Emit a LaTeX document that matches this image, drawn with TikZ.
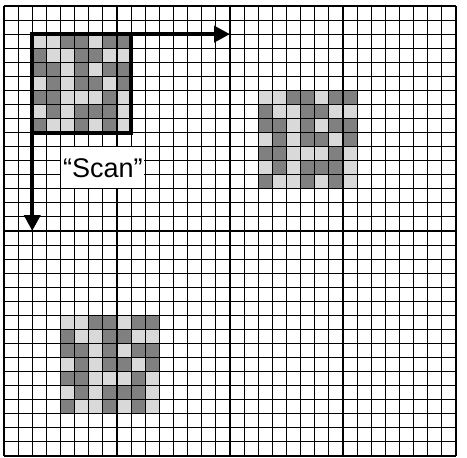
\documentclass[tikz,border=0pt]{standalone}
\usepackage{fontspec}
\setmainfont{Liberation Sans}
\usetikzlibrary{arrows.meta}
\definecolor{darkcell}{HTML}{808080}
\definecolor{lightcell}{HTML}{D9D9D9}
\newcommand\patblock[2]{%
  \fill[lightcell] (#1,#2) rectangle ++(7,7);
  \foreach \cc/\rr in {2/0,3/0,5/0,6/0, 0/1,3/1,4/1, 0/2,1/2,3/2,5/2,6/2,
      1/3,3/3,4/3,6/3, 0/4,1/4,5/4, 1/5,3/5,4/5,5/5, 0/6,3/6,5/6}{%
    \fill[darkcell] ({#1+\cc},{#2+\rr}) rectangle ++(1,1);
  }%
}
\begin{document}
\begin{tikzpicture}[x=1pt,y=-1pt,
  gridline/.style={line width=1.1pt,black},
  scanarrow/.style={line width=4pt,-{Triangle[length=16pt,width=16pt]}},
  scanbox/.style={line width=4pt},
  label/.style={fill=white,inner sep=0pt,minimum width=83pt,minimum height=40.8pt,font=\fontsize{27}{32}\selectfont}]
\useasboundingbox (0,0) rectangle (467,458);
\fill[white] (0,0) rectangle (467,458);
\begin{scope}[shift={(4,6)},x=14.125pt,y=-14.0625pt]
  \patblock{2}{2}
  \patblock{18}{6}
  \patblock{4}{22}
\end{scope}
\foreach \gi in {0,...,32}{%
  \draw[gridline] ({4+14.125*\gi},6) -- ({4+14.125*\gi},456);
  \draw[gridline] (4,{6+14.0625*\gi}) -- (456,{6+14.0625*\gi});
}
\begin{scope}[shift={(4,6)},x=14.125pt,y=-14.0625pt]
  \node[label] (scan) at (7,11.5) {“Scan”};
  \coordinate (o) at (2,2);
  \coordinate (blk) at (9,9);
  \coordinate (xe) at (16,2);
  \coordinate (ye) at (2,16);
  \draw[scanbox] (o) rectangle (blk);
  \draw[scanarrow] (o) -- (xe);
  \draw[scanarrow] (o) -- (ye);
\end{scope}
\end{tikzpicture}
\end{document}
